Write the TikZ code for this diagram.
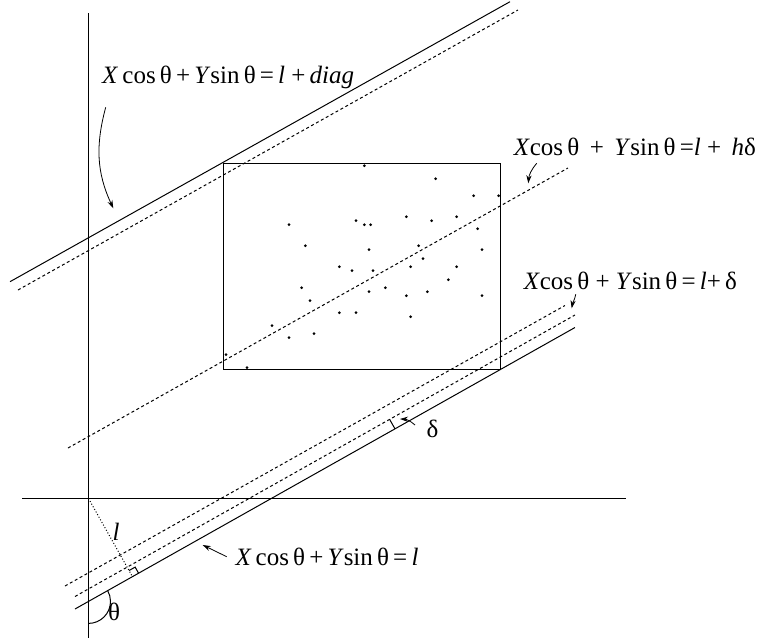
\documentclass[tikz,border=0pt]{standalone}
\usepackage{fontspec}
\setmainfont{Liberation Serif}
\usetikzlibrary{calc,arrows.meta}

\begin{document}
\begin{tikzpicture}[x=0.5pt, y=0.5pt, line width=0.5pt,
  dashln/.style={dash pattern=on 1.5pt off 1.3pt},
  eqn/.style={anchor=base west, inner sep=0pt, font=\fontsize{12.5}{15}\selectfont},
  greek/.style={inner sep=0pt, font=\fontsize{12.5}{15}\selectfont},
  arr/.style={-{Stealth[length=4pt,width=2.6pt]}, line width=0.4pt}]

  \useasboundingbox (0,0) rectangle (757,-644);

  % ---------- axes ----------
  \coordinate (O) at (88.5,-498.5);
  \draw (88.5,-13) -- (88.5,-638);
  \draw (22,-498.5) -- (626,-498.5);

  % ---------- window with the sample points ----------
  \draw (223,-163) rectangle (500,-369);
  \foreach \px/\py in {364.3/165.7, 435.7/178.7, 473.7/195.7, 498.7/195.7,
      289/224.7, 356/220.7, 364.3/224.7, 370.7/224.7, 406.3/216.7, 431.7/220.7,
      456.7/216.7, 477.7/228.7, 305.3/245.7, 369/249.7, 418.7/245.7, 482/249.7,
      423/258.7, 339.3/266.7, 352/270.7, 373/270.7, 410.7/266.7, 456.7/266.7,
      448.3/279.7, 301.7/287.7, 385.3/287.7, 369/291.7, 406.3/295.7, 427.3/291.7,
      482/295.7, 310/300.7, 339.3/312.7, 356/312.7, 410.7/316.7, 272/325.7,
      289/337.7, 314/333.7, 226/354.7, 247/367.7}
    \fill (\px,-\py) circle (1.5);

  % ---------- the lines ----------
  \coordinate (da) at (10,-281.7);   \coordinate (db) at (510,-1.7);
  \coordinate (dda) at (18,-290);    \coordinate (ddb) at (518,-10);
  \coordinate (ha) at (68,-448);     \coordinate (hb) at (568,-168);
  \coordinate (ua) at (65,-586);     \coordinate (ub) at (565,-305.5);
  \coordinate (wa) at (75,-596.5);   \coordinate (wb) at (575,-315);
  \coordinate (la) at (75,-609);     \coordinate (lb) at (575,-327.5);
  \draw (da) -- (db);
  \draw[dashln] (dda) -- (ddb);
  \draw[dashln] (ha) -- (hb);
  \draw[dashln] (ua) -- (ub);
  \draw[dashln] (wa) -- (wb);
  \draw (la) -- (lb);

  % ---------- normal from the origin ----------
  \coordinate (F) at ($(la)!(O)!(lb)$);
  \draw[densely dotted] (O) -- (F);
  \coordinate (f1) at ($(F)!3.5pt!(lb)$);
  \coordinate (f2) at ($(F)!3.5pt!(O)$);
  \draw (f1) -- ($(f1)+(f2)-(F)$) -- (f2);
  \node[eqn] (lbl) at (112,-540.7) {\textit{l}};

  % ---------- angle theta ----------
  \coordinate (T) at (88.5,-601.4);
  \draw ($(T)+(0,-22)$) arc[start angle=-90, end angle=29.4, radius=22];
  \node[greek] (th) at (114,-612) {θ};

  % ---------- spacing delta ----------
  \coordinate (s1) at ($(la)!0.64!(lb)$);
  \coordinate (s2) at ($(wa)!(s1)!(wb)$);
  \draw (s2) -- (s1);
  \node[greek] (dl) at (432.5,-429) {δ};
  \coordinate (d0) at (415,-425);
  \coordinate (d1) at (400,-419);
  \draw[arr] (d0) to[bend right=20] (d1);

  % ---------- equations ----------
  \node[eqn] (eqdiag) at (101.7,-83.3)
    {\textit{X}\,cos\,θ\,+\,\textit{Y}sin\,θ\,=\,\textit{l}\ +\,\textit{diag}};
  \node[eqn] (eqh) at (513.3,-155)
    {\textit{X}cos\,θ\ \,+\ \,\textit{Y}sin\,θ\,=\textit{l}\ +\ \,\textit{h}δ};
  \node[eqn] (eqd) at (523.3,-289.3)
    {\textit{X}cos\,θ\ +\ \textit{Y}sin\,θ\,=\,\textit{l}+\,δ};
  \node[eqn] (eql) at (235,-565.7)
    {\textit{X}\,cos\,θ\,+\,\textit{Y}sin\,θ\,=\,\textit{l}};

  % ---------- pointers ----------
  \coordinate (a1) at (105.7,-107.3);  \coordinate (a1e) at (113.3,-208.3);
  \coordinate (a2) at (536.7,-163.3);  \coordinate (a2e) at (528.3,-183.3);
  \coordinate (a3) at (575.7,-294.3);  \coordinate (a3e) at (571.7,-308.3);
  \coordinate (a4) at (226.7,-556.7);  \coordinate (a4e) at (202.7,-545);
  \draw[arr] (a1) to[out=-105, in=115] (a1e);
  \draw[arr] (a2) to[out=-130, in=85] (a2e);
  \draw[arr] (a3) to[out=-100, in=80] (a3e);
  \draw[arr] (a4) -- (a4e);

\end{tikzpicture}
\end{document}
